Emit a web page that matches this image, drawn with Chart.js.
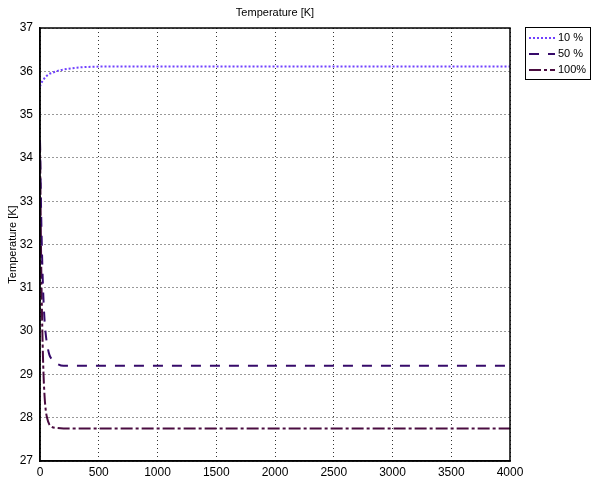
<!DOCTYPE html>
<html>
<head>
<meta charset="utf-8">
<script src="https://cdn.jsdelivr.net/npm/chart.js@4/dist/chart.umd.min.js"></script>
<style>
  html, body { margin: 0; padding: 0; background: #fff; }
  #wrap { width: 592px; height: 480px; }
</style>
</head>
<body>
<div id="wrap"><canvas id="chart" width="592" height="480"></canvas></div>
<script>
////////////////////////////////////////////////////////////////////////
// Data

// time steps (x axis)
const steps = [0, 10, 20, 30, 40, 50, 60, 80, 100, 150, 200, 300, 400, 600,
    1000, 1500, 2000, 2500, 3000, 3500, 4000]

// temperature [K] for each load level
const temp10 = [35.65, 35.72, 35.77, 35.81, 35.85, 35.88, 35.9, 35.94, 35.96, 36.01,
    36.04, 36.08, 36.1, 36.11, 36.11, 36.11, 36.11, 36.11, 36.11, 36.11, 36.11]
const temp50 = [34.4, 32.7, 31.5, 30.7, 30.2, 29.9, 29.7, 29.45, 29.35, 29.24,
    29.2, 29.2, 29.2, 29.2, 29.2, 29.2, 29.2, 29.2, 29.2, 29.2, 29.2]
const temp100 = [34.4, 31.6, 30.0, 29.0, 28.45, 28.15, 28.0, 27.84, 27.79, 27.76,
    27.75, 27.75, 27.75, 27.75, 27.75, 27.75, 27.75, 27.75, 27.75, 27.75, 27.75]

const seriesLabels = ["10 %", "50 %", "100%"]
const xTicks = [0, 500, 1000, 1500, 2000, 2500, 3000, 3500, 4000]
const yTicks = [27, 28, 29, 30, 31, 32, 33, 34, 35, 36, 37]

const chartTitle = "Temperature [K]"
const yTitle = "Temperature [K]"

////////////////////////////////////////////////////////////////////////
// Helpers

function points(values) {
    return values.map((v, i) => ({ x: steps[i], y: v }))
}

function series(label, values, color, dash) {
    return {
        label: label,
        data: points(values),
        borderColor: color,
        backgroundColor: color,
        borderWidth: 2,
        borderDash: dash,
        pointRadius: 0,
        fill: false,
        cubicInterpolationMode: 'monotone'
    }
}

const FONT = "'Liberation Sans', Arial, sans-serif"

// title above the plot box
const titlePlugin = {
    id: 'plotTitle',
    afterDraw(chart) {
        const { ctx, chartArea } = chart
        ctx.save()
        ctx.font = "11px " + FONT
        ctx.fillStyle = "#000"
        ctx.textAlign = "center"
        ctx.textBaseline = "middle"
        ctx.fillText(chartTitle, (chartArea.left + chartArea.right) / 2, 13)
        ctx.restore()
    }
}

// closes the axes into a full box
const framePlugin = {
    id: 'frame',
    afterDraw(chart) {
        const { ctx, chartArea } = chart
        ctx.save()
        ctx.strokeStyle = "#000"
        ctx.lineWidth = 1.5
        ctx.strokeRect(chartArea.left, chartArea.top,
            chartArea.right - chartArea.left, chartArea.bottom - chartArea.top)
        ctx.restore()
    }
}

// boxed legend to the right of the plot
const legendPlugin = {
    id: 'boxLegend',
    afterDraw(chart) {
        const { ctx } = chart
        const x0 = 525, y0 = 27, w = 65, h = 52
        ctx.save()
        ctx.strokeStyle = "#000"
        ctx.lineWidth = 1
        ctx.strokeRect(x0 + 0.5, y0 + 0.5, w, h)
        ctx.font = "11px " + FONT
        ctx.textBaseline = "middle"
        ctx.textAlign = "left"
        chart.data.datasets.forEach((ds, i) => {
            const y = y0 + 11 + i * 16
            ctx.strokeStyle = ds.borderColor
            ctx.lineWidth = ds.borderWidth
            ctx.setLineDash(ds.borderDash || [])
            ctx.beginPath()
            ctx.moveTo(x0 + 4, y)
            ctx.lineTo(x0 + 30, y)
            ctx.stroke()
            ctx.setLineDash([])
            ctx.fillStyle = "#000"
            ctx.fillText(ds.label, x0 + 33, y)
        })
        ctx.restore()
    }
}

////////////////////////////////////////////////////////////////////////
// Chart

const config = {
    type: 'line',
    data: {
        datasets: [
            series(seriesLabels[0], temp10, "#7040ff", [2, 2]),
            series(seriesLabels[1], temp50, "#360a6a", [10, 9]),
            series(seriesLabels[2], temp100, "#4a0c40", [12, 3, 3, 3])
        ]
    },
    options: {
        responsive: false,
        animation: false,
        events: [],
        layout: { padding: { top: 28, right: 82, bottom: 0, left: 0 } },
        plugins: {
            legend: { display: false },
            title: { display: false },
            tooltip: { enabled: false }
        },
        scales: {
            x: {
                type: 'linear',
                min: 0,
                max: 4000,
                afterBuildTicks: scale => { scale.ticks = xTicks.map(v => ({ value: v })) },
                afterFit: scale => { scale.height = 19 },
                ticks: {
                    color: "#000",
                    font: { family: FONT, size: 12 },
                    padding: 4,
                    maxRotation: 0,
                    autoSkip: false,
                    callback: v => String(v)
                },
                grid: { color: "#333", lineWidth: 1, drawTicks: false },
                border: { display: true, color: "#000", width: 1.5, dash: [1, 3] }
            },
            y: {
                type: 'linear',
                min: 27,
                max: 37,
                afterBuildTicks: scale => { scale.ticks = yTicks.map(v => ({ value: v })) },
                afterFit: scale => { scale.width = 40 },
                ticks: {
                    color: "#000",
                    font: { family: FONT, size: 12 },
                    padding: 7,
                    autoSkip: false,
                    callback: v => String(v)
                },
                title: {
                    display: true,
                    text: yTitle,
                    color: "#000",
                    font: { family: FONT, size: 11 },
                    padding: { top: 6, bottom: 0 }
                },
                grid: { color: "#333", lineWidth: 1, drawTicks: false },
                border: { display: true, color: "#000", width: 1.5, dash: [1, 3] }
            }
        }
    },
    plugins: [titlePlugin, framePlugin, legendPlugin]
}

new Chart(document.getElementById('chart'), config)
</script>
</body>
</html>
